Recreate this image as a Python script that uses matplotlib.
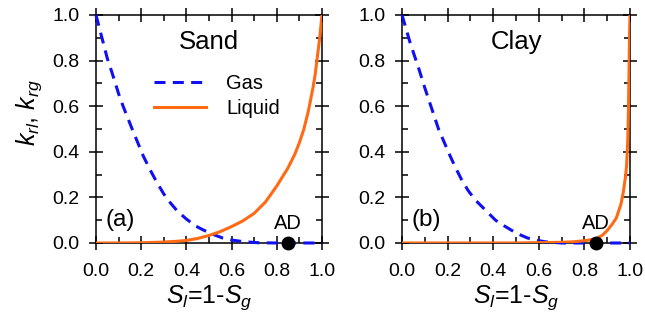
"""
Relative permeability curves k_rl / k_rg for sand and clay.
"""

import matplotlib

matplotlib.use("Agg")
import matplotlib.pyplot as plt
from matplotlib.ticker import MultipleLocator

plt.rcParams["font.family"] = ["Liberation Sans", "DejaVu Sans"]
plt.rcParams["mathtext.fontset"] = "custom"
plt.rcParams["mathtext.rm"] = "Liberation Sans"
plt.rcParams["mathtext.it"] = "Liberation Sans:italic"

# --- values ---
sand_gas_s = [0.0, 0.025, 0.05, 0.07, 0.10, 0.12, 0.16, 0.21, 0.24, 0.27, 0.30, 0.33, 0.36,
              0.40, 0.44, 0.475, 0.52, 0.56, 0.60, 0.65, 0.72, 0.80, 1.0]
sand_gas_k = [1.0, 0.905, 0.81, 0.75, 0.655, 0.60, 0.50, 0.38, 0.32, 0.265, 0.215, 0.175, 0.14,
              0.105, 0.075, 0.057, 0.037, 0.022, 0.013, 0.006, 0.001, 0.0, 0.0]

sand_liq_s = [0.0, 0.1, 0.2, 0.3, 0.35, 0.4, 0.45, 0.5, 0.55, 0.6, 0.65, 0.7, 0.75, 0.8, 0.85,
              0.88, 0.9, 0.92, 0.94, 0.96, 0.97, 0.98, 0.99, 1.0]
sand_liq_k = [0.0, 0.0, 0.001, 0.004, 0.007, 0.011, 0.02, 0.033, 0.05, 0.072, 0.097, 0.13, 0.18,
              0.25, 0.33, 0.39, 0.44, 0.50, 0.58, 0.68, 0.74, 0.82, 0.90, 1.0]

clay_gas_s = [0.0, 0.035, 0.075, 0.10, 0.12, 0.16, 0.205, 0.23, 0.26, 0.29, 0.32, 0.35, 0.38,
              0.41, 0.44, 0.49, 0.52, 0.55, 0.59, 0.63, 0.70, 1.0]
clay_gas_k = [1.0, 0.88, 0.76, 0.68, 0.62, 0.50, 0.395, 0.34, 0.28, 0.23, 0.19, 0.16, 0.13,
              0.10, 0.08, 0.05, 0.035, 0.022, 0.012, 0.005, 0.0, 0.0]

clay_liq_s = [0.0, 0.5, 0.7, 0.75, 0.8, 0.85, 0.88, 0.9, 0.92, 0.94, 0.96, 0.97, 0.98, 0.985,
              0.99, 0.993, 0.996, 0.998, 1.0]
clay_liq_k = [0.0, 0.0, 0.003, 0.005, 0.01, 0.018, 0.035, 0.055, 0.08, 0.11, 0.17, 0.22, 0.29,
              0.34, 0.45, 0.58, 0.78, 0.92, 1.0]

ad_s = 0.85
panel_names = ["Sand", "Clay"]
panel_tags = ["(a)", "(b)"]

BLUE = "#1010F0"
ORANGE = "#FF6A14"


def style_axis(ax):
    ax.set_xlim(0, 1)
    ax.set_ylim(0, 1)
    ax.xaxis.set_major_locator(MultipleLocator(0.2))
    ax.xaxis.set_minor_locator(MultipleLocator(0.1))
    ax.yaxis.set_major_locator(MultipleLocator(0.2))
    ax.yaxis.set_minor_locator(MultipleLocator(0.1))
    ax.xaxis.set_major_formatter(lambda v, p: f"{v:.1f}")
    ax.yaxis.set_major_formatter(lambda v, p: f"{v:.1f}")
    ax.tick_params(which="major", direction="inout", length=9.5, width=1.1,
                   top=True, right=True, labelsize=14)
    ax.tick_params(which="minor", direction="in", length=4.5, width=1.1,
                   top=True, right=True)
    ax.tick_params(axis="x", which="major", pad=10)
    ax.tick_params(axis="y", which="major", pad=7)
    for sp in ax.spines.values():
        sp.set_linewidth(1.1)
    ax.set_xlabel(r"$S_l$=1-$S_g$", fontsize=18, labelpad=2)


def draw_panel(ax, gas_s, gas_k, liq_s, liq_k, name, tag):
    ax.plot(gas_s, gas_k, color=BLUE, lw=2.2, ls=(0, (3.6, 2.4)), label="Gas",
            clip_on=False, zorder=3)
    ax.plot(liq_s, liq_k, color=ORANGE, lw=2.2, label="Liquid", zorder=4)
    ax.plot([ad_s], [0.0], "o", color="black", ms=9, clip_on=False, zorder=5)
    ax.text(ad_s, 0.045, "AD", ha="center", va="bottom", fontsize=14.5)
    ax.text(0.5, 0.88, name, transform=ax.transAxes, ha="center", va="center", fontsize=18.5)
    ax.text(0.04, 0.10, tag, transform=ax.transAxes, ha="left", va="center", fontsize=17.5)
    style_axis(ax)


def main():
    fig = plt.figure(figsize=(6.45, 3.23), dpi=100)
    ax_a = fig.add_axes([0.1488, 0.2477, 0.3504, 0.7059])
    ax_b = fig.add_axes([0.6233, 0.2477, 0.3535, 0.7059])

    draw_panel(ax_a, sand_gas_s, sand_gas_k, sand_liq_s, sand_liq_k, panel_names[0], panel_tags[0])
    draw_panel(ax_b, clay_gas_s, clay_gas_k, clay_liq_s, clay_liq_k, panel_names[1], panel_tags[1])

    ax_a.set_ylabel(r"$k_{rl}$, $k_{rg}$", fontsize=18)
    ax_a.yaxis.set_label_coords(-0.23, 0.57)

    ax_a.legend(loc="upper left", bbox_to_anchor=(0.22, 0.775), frameon=False,
                fontsize=14.5, handlelength=2.6, handletextpad=1.0, labelspacing=0.3,
                borderaxespad=0)

    fig.savefig("out.png", dpi=100)


if __name__ == "__main__":
    main()
